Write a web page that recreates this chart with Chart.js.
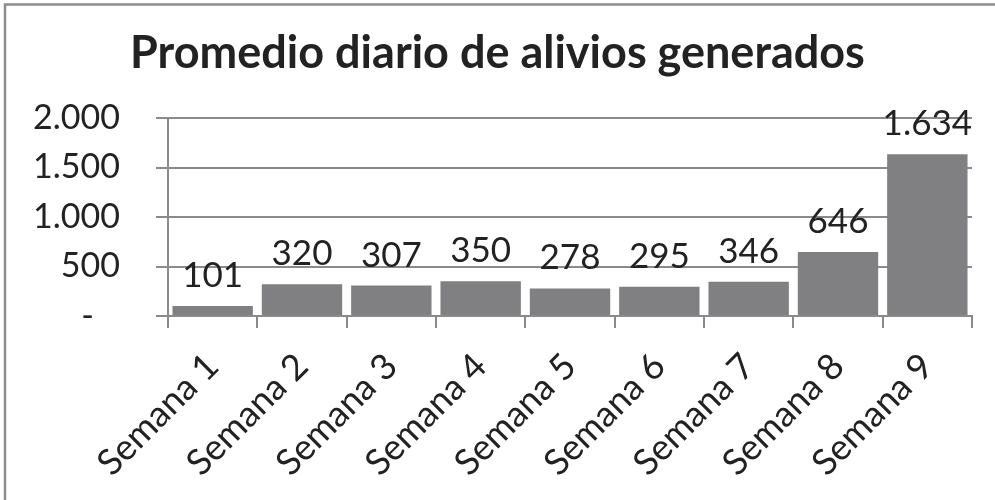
<!DOCTYPE html>
<html>
<head>
<meta charset="utf-8">
<script src="https://cdn.jsdelivr.net/npm/chart.js@4.4.0/dist/chart.umd.min.js"></script>
<style>
html,body{margin:0;padding:0;background:#fff;}
#wrap{width:995px;height:500px;position:relative;}
</style>
</head>
<body>
<div id="wrap"><canvas id="c" width="995" height="500"></canvas></div>
<script>
const categories = ["Semana 1","Semana 2","Semana 3","Semana 4","Semana 5","Semana 6","Semana 7","Semana 8","Semana 9"];
const values = [101, 320, 307, 350, 278, 295, 346, 646, 1634];
const yTicks = [0, 500, 1000, 1500, 2000];
const titleText = "Promedio diario de alivios generados";

const FONT = "Lato";
const TXT = "#222222";
const GRID = "#8a8a8a";
const BAR = "#808083";

function fmt(v){
  if (v === 0) return "-   ";
  return String(v).replace(/\B(?=(\d{3})+(?!\d))/g, ".");
}

const framePlugin = {
  id: "frame",
  beforeDraw(chart){
    const ctx = chart.ctx;
    ctx.save();
    ctx.fillStyle = "#fff";
    ctx.fillRect(0,0,chart.width,chart.height);
    ctx.strokeStyle = "#8c8c8c";
    ctx.lineWidth = 2.5;
    ctx.beginPath();
    ctx.moveTo(5, chart.height);
    ctx.lineTo(5, 4.5);
    ctx.lineTo(chart.width, 4.5);
    ctx.stroke();
    ctx.restore();
  }
};

const labelPlugin = {
  id: "barLabels",
  afterDatasetsDraw(chart){
    const ctx = chart.ctx;
    const meta = chart.getDatasetMeta(0);
    ctx.save();
    ctx.font = "35px " + FONT;
    ctx.fillStyle = TXT;
    ctx.textAlign = "center";
    ctx.textBaseline = "alphabetic";
    meta.data.forEach((bar, i) => {
      ctx.fillText(fmt(values[i]), bar.x, bar.y - 19);
    });
    ctx.restore();
  }
};

new Chart(document.getElementById("c"), {
  type: "bar",
  data: {
    labels: categories,
    datasets: [{
      data: values,
      backgroundColor: BAR,
      borderWidth: 0,
      categoryPercentage: 0.9,
      barPercentage: 1.0
    }]
  },
  options: {
    responsive: false,
    animation: false,
    layout: { padding: { left: 23, right: 23, top: 0, bottom: 0 } },
    plugins: {
      legend: { display: false },
      tooltip: { enabled: false },
      title: {
        display: true,
        text: titleText,
        color: TXT,
        font: { family: FONT, size: 45, weight: "bold" },
        padding: { top: 26, bottom: 38 }
      }
    },
    scales: {
      x: {
        grid: { display: true, offset: true, drawOnChartArea: false, drawTicks: true, tickLength: 12, color: GRID, lineWidth: 2 },
        border: { display: true, color: GRID, width: 2 },
        ticks: { color: TXT, font: { family: FONT, size: 36 }, maxRotation: 45, minRotation: 45, padding: 17, autoSkip: false },
        afterFit(scale){ scale.height = 184; }
      },
      y: {
        min: 0, max: 2000,
        afterBuildTicks(scale){ scale.ticks = yTicks.map(v => ({ value: v })); },
        grid: { color: GRID, lineWidth: 2, tickLength: 12, drawTicks: true },
        border: { display: true, color: GRID, width: 2 },
        ticks: { color: TXT, font: { family: FONT, size: 34 }, padding: 36, callback: (v) => fmt(v) },
        afterFit(scale){ scale.width = 145; }
      }
    }
  },
  plugins: [framePlugin, labelPlugin]
});
</script>
</body>
</html>
